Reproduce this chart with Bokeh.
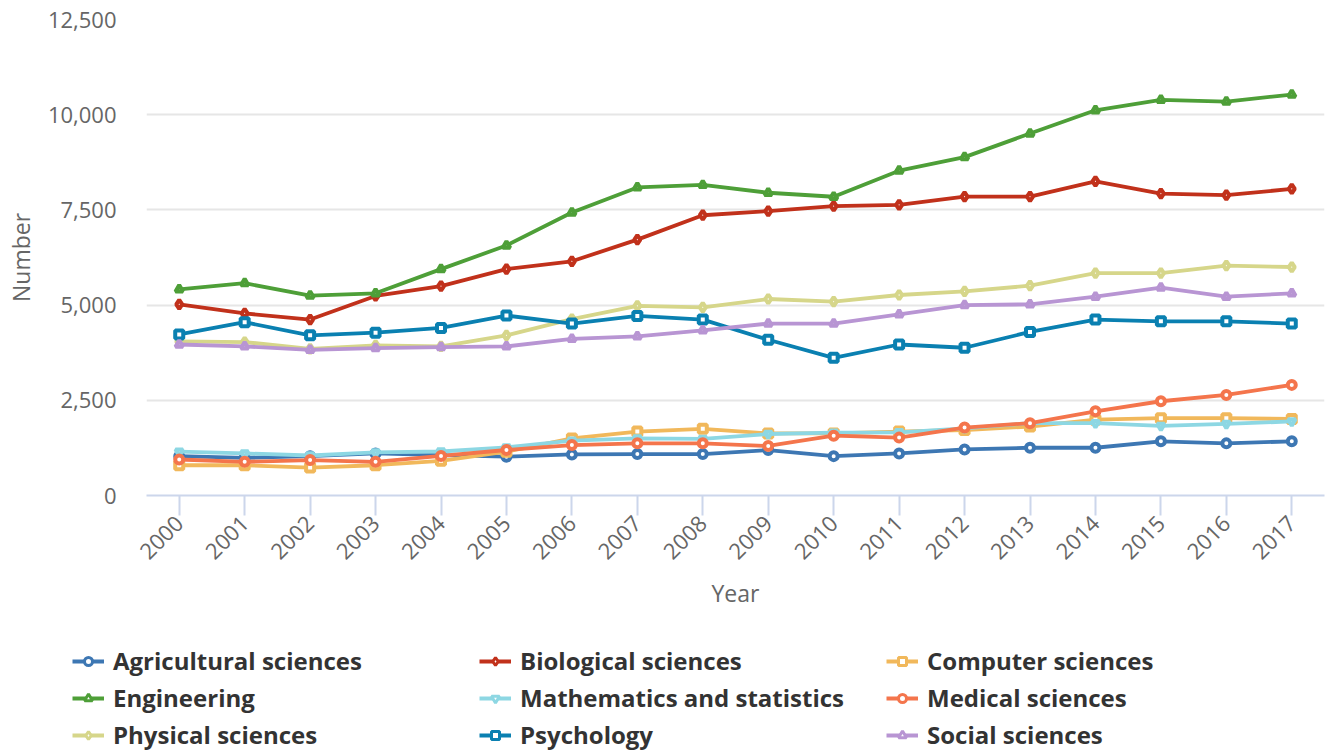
import math
from bokeh.plotting import figure
from bokeh.models import (Range1d, FixedTicker, NumeralTickFormatter, Legend, LegendItem)
from bokeh.embed import file_html
from bokeh.resources import INLINE

years = list(range(2000, 2018))

agricultural = [1034, 990, 1034, 1104, 1060, 1020, 1078, 1087, 1087, 1193, 1034, 1104, 1210, 1254, 1254, 1422, 1369, 1422]
biological = [5020, 4780, 4620, 5240, 5500, 5945, 6150, 6720, 7360, 7470, 7600, 7630, 7850, 7850, 8250, 7930, 7890, 8050]
computer = [795, 795, 733, 795, 910, 1150, 1500, 1680, 1750, 1630, 1630, 1680, 1720, 1810, 1990, 2030, 2030, 2010]
engineering = [5415, 5575, 5250, 5310, 5945, 6565, 7430, 8090, 8155, 7950, 7845, 8530, 8885, 9505, 10115, 10390, 10345, 10530]
mathematics = [1150, 1105, 1050, 1130, 1155, 1265, 1440, 1500, 1485, 1615, 1650, 1660, 1765, 1900, 1900, 1830, 1880, 1945]
medical = [945, 885, 930, 885, 1040, 1195, 1325, 1370, 1370, 1300, 1570, 1520, 1785, 1900, 2210, 2475, 2640, 2905]
physical = [4045, 4030, 3850, 3940, 3915, 4205, 4630, 4980, 4940, 5160, 5090, 5265, 5360, 5510, 5840, 5840, 6035, 6000]
psychology = [4230, 4550, 4205, 4275, 4400, 4725, 4515, 4715, 4620, 4090, 3615, 3965, 3880, 4295, 4620, 4575, 4575, 4515]
social = [3965, 3915, 3825, 3870, 3895, 3915, 4115, 4180, 4335, 4515, 4515, 4755, 5000, 5020, 5220, 5460, 5220, 5310]

series_names = ["Agricultural sciences", "Biological sciences", "Computer sciences",
                "Engineering", "Mathematics and statistics", "Medical sciences",
                "Physical sciences", "Psychology", "Social sciences"]
series_values = [agricultural, biological, computer, engineering, mathematics,
                 medical, physical, psychology, social]
series_colors = ["#3d77b3", "#c1311b", "#f1b85b", "#4e9f38", "#8dd7e3",
                 "#f4754c", "#d6d68a", "#0a80b1", "#b895d3"]
series_markers = ["circle", "diamond", "square", "triangle", "inverted_triangle",
                  "circle", "diamond", "square", "triangle"]
marker_sizes = {"circle": 8, "diamond": 9, "square": 8, "triangle": 7.5,
                "inverted_triangle": 7.5}

y_ticks = [0, 2500, 5000, 7500, 10000, 12500]

W = 1326
H1 = 630
H2 = 122
p = figure(width=W, height=H1, output_backend="svg", toolbar_location=None,
           x_range=Range1d(1999.5, 2017.5), y_range=Range1d(0, 12500),
           min_border_left=146, min_border_right=2, min_border_top=19,
           min_border_bottom=H1 - 495)
p.outline_line_color = None
p.background_fill_color = "white"

p.xaxis.ticker = FixedTicker(ticks=years)
p.xaxis.major_label_orientation = math.pi / 4
p.xaxis.axis_line_color = "#ccd6eb"
p.xaxis.axis_line_width = 2
p.xaxis.major_tick_line_color = "#ccd6eb"
p.xaxis.major_tick_line_width = 2
p.xaxis.major_tick_out = 20
p.xaxis.major_tick_in = 0
p.xaxis.minor_tick_line_color = None
p.xaxis.major_label_standoff = 4
p.xaxis.axis_label = "Year"
p.xaxis.axis_label_standoff = 8

p.yaxis.ticker = FixedTicker(ticks=y_ticks)
p.yaxis.formatter = NumeralTickFormatter(format="0,0")
p.yaxis.axis_line_color = None
p.yaxis.major_tick_line_color = None
p.yaxis.minor_tick_line_color = None
p.yaxis.major_tick_out = 0
p.yaxis.major_tick_in = 0
p.yaxis.major_label_standoff = 30
p.yaxis.axis_label = "Number"
p.yaxis.axis_label_standoff = 8

for ax in (p.xaxis, p.yaxis):
    ax.major_label_text_font = "Open Sans"
    ax.major_label_text_font_size = "22px"
    ax.major_label_text_color = "#666666"
    ax.axis_label_text_font = "Open Sans"
    ax.axis_label_text_font_size = "23px"
    ax.axis_label_text_font_style = "normal"
    ax.axis_label_text_color = "#666666"

p.xgrid.grid_line_color = None
p.ygrid.grid_line_color = "#e6e6e6"
p.ygrid.grid_line_width = 2

# separate legend figure placed under the chart (own root, so no frame alignment)
p2 = figure(width=W, height=H2, output_backend="svg", toolbar_location=None,
            x_range=Range1d(0, 1), y_range=Range1d(0, 1),
            x_axis_type=None, y_axis_type=None,
            min_border_left=0, min_border_right=0, min_border_top=0, min_border_bottom=0)
p2.outline_line_color = None
p2.xgrid.grid_line_color = None
p2.ygrid.grid_line_color = None

items = []
for name, vals, col, mk in zip(series_names, series_values, series_colors, series_markers):
    p.line(years, vals, line_color=col, line_width=3.8)
    p.scatter(years, vals, marker=mk, size=marker_sizes[mk], fill_color="white",
              line_color=col, line_width=4)
    # proxy glyphs outside the visible range, used only for the legend swatches
    lr = p2.line([-5, -4], [-5, -4], line_color=col, line_width=3.8)
    sr = p2.scatter([-5], [-5], marker=mk, size=marker_sizes[mk], fill_color="white",
                    line_color=col, line_width=3)
    items.append(LegendItem(label=name, renderers=[lr, sr]))

row_centers = [661 - H1, 698 - H1, 735 - H1]
glyph_h = 20
half_item = 16  # half of the legend row height set by the 24px label text
for r in range(3):
    leg = Legend(items=items[r * 3:(r + 1) * 3], orientation="horizontal",
                 location=(72, H2 - row_centers[r] - half_item),
                 glyph_width=32, glyph_height=glyph_h, label_height=glyph_h,
                 label_width=366, label_standoff=9, spacing=0,
                 padding=0, margin=0,
                 label_text_font="Open Sans", label_text_font_style="bold",
                 label_text_font_size="24px", label_text_color="#333333",
                 border_line_color=None, background_fill_alpha=0)
    p2.add_layout(leg, "center")

open("out.html", "w").write(file_html([p, p2], INLINE))
